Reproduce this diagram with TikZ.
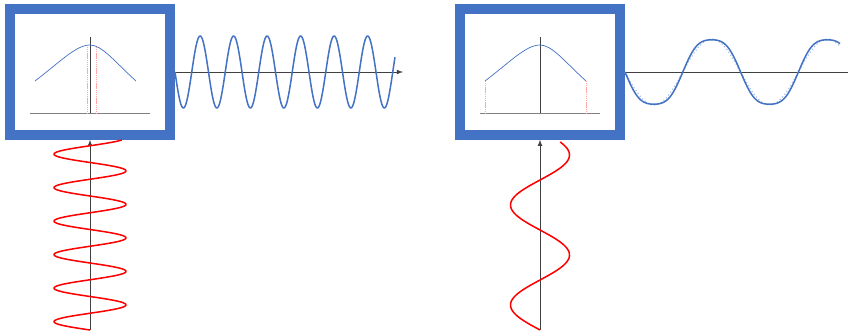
\documentclass[tikz,border=0pt]{standalone}
\usepackage{xcolor}
\usetikzlibrary{arrows}
\usetikzlibrary{math}
\definecolor{myblue}{RGB}{68,114,196}
\definecolor{myred}{RGB}{255,0,0}
\definecolor{mygray}{RGB}{64,64,64}

\begin{document}
\begin{tikzpicture}[x=0.03cm,y=-0.03cm,
  filter/.style={draw=myblue,line width=8.5pt,fill=white,minimum width=4.8cm,minimum height=3.765cm,inner sep=0pt},
  axis/.style={color=mygray,line width=0.8pt},
  wave/.style={line width=1.3pt,line join=round}]
\tikzmath{
\ya=72;    % output axis
\yb=330;   % input start
\Ta=33.5;  \Aa=36;
\Tb=100;   \Ab=29.5;
\Tc=115.6; \Ac=35;
}
\useasboundingbox (0,0) rectangle (848,335);

%filters
\node[filter] (filtA) at (90,\ya) {};
\node[filter] (filtB) at (540,\ya) {};

%transfer curves
\foreach \dx in {0,450}{
\draw[color=gray,line width=0.5pt] (\dx+30,113) -- (\dx+150,113);
\draw[color=mygray,line width=0.5pt] (\dx+90,37) -- (\dx+90,113);
\draw[color=myblue,line width=0.6pt] (\dx+35,81) .. controls (\dx+60,62) and (\dx+76,45) .. (\dx+90,45) .. controls (\dx+102,45) and (\dx+114,61) .. (\dx+136,81);
}
\draw[color=myred!35,dash pattern=on 1pt off 0.6pt,line width=0.35pt] (87,47) -- (87,113) (96,47) -- (96,113);
\draw[color=myred!35,dash pattern=on 1pt off 0.6pt,line width=0.35pt] (485,81) -- (485,113) (586,81) -- (586,113);


%inputs
\coordinate (inA) at (90,\yb);
\coordinate (inB) at (540,\yb);
\draw[-latex,axis] (inA) -- (filtA.south);
\draw[-latex,axis] (inB) -- (filtB.south);
\draw[wave,color=myred,domain=140:330,samples=300,smooth,variable=\t] plot ({90-\Aa*sin((\yb-\t)/\Ta*360)},\t);
\draw[wave,color=myred,domain=142:330,samples=150,smooth,variable=\t] plot ({540-\Ab*sin((\yb-\t)/\Tb*360)},\t);


%outputs
\coordinate (outA) at (403,\ya);
\coordinate (outB) at (848,\ya);
\draw[-latex,axis] (filtA.east) -- (outA);
\draw[axis] (filtB.east) -- (outB);
\draw[wave,color=myblue,domain=175:395,samples=300,smooth] plot (\x,{\ya+\Aa*sin((\x-175)/\Ta*360)});
\draw[color=myblue!45,dotted,line width=1pt,domain=625:840,samples=150,smooth] plot (\x,{\ya+33*sin((\x-625)/\Tc*360)});
\draw[wave,color=myblue,domain=625:840,samples=200,smooth] plot (\x,{\ya+\Ac*(sin((\x-625)/\Tc*360)+0.08*sin((\x-625)/\Tc*1080))});
\end{tikzpicture}
\end{document}
